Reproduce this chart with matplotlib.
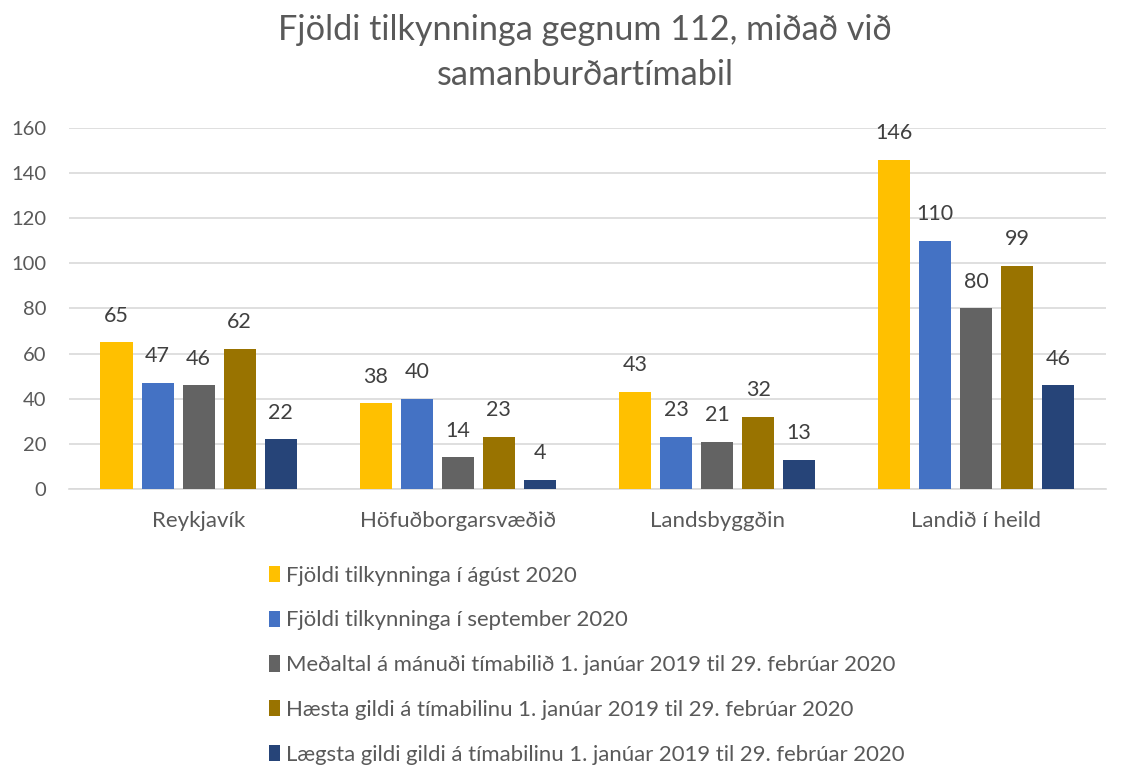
import numpy as np
import matplotlib.pyplot as plt
from matplotlib.patches import Patch

plt.rcParams['font.family'] = ['Lato', 'DejaVu Sans']

categories = ["Reykjavík", "Höfuðborgarsvæðið", "Landsbyggðin", "Landið í heild"]
series_names = [
    "Fjöldi tilkynninga í ágúst 2020",
    "Fjöldi tilkynninga í september 2020",
    "Meðaltal á mánuði tímabilið 1. janúar 2019 til 29. febrúar 2020",
    "Hæsta gildi á tímabilinu 1. janúar 2019 til 29. febrúar 2020",
    "Lægsta gildi gildi á tímabilinu 1. janúar 2019 til 29. febrúar 2020",
]
aug_2020 = [65, 38, 43, 146]
sep_2020 = [47, 40, 23, 110]
avg_period = [46, 14, 21, 80]
max_period = [62, 23, 32, 99]
min_period = [22, 4, 13, 46]
colors = ["#FFC000", "#4472C4", "#636363", "#997300", "#264478"]

values = [aug_2020, sep_2020, avg_period, max_period, min_period]
text_col = "#595959"

fig = plt.figure(figsize=(11.34, 7.65), dpi=100)
ax = fig.add_axes([0.0608, 0.3608, 0.9145, 0.4719])

x = np.arange(len(categories))
w = 0.1236
step = 0.1583
for i, (vals, col) in enumerate(zip(values, colors)):
    pos = x + (i - 2) * step
    bars = ax.bar(pos, vals, width=w, color=col, zorder=3)
    for b, v in zip(bars, vals):
        ax.annotate(str(v), (b.get_x() + b.get_width() / 2, v), xytext=(0, 12),
                    textcoords="offset points", ha="center", va="bottom",
                    fontsize=15.5, color="#404040")

ax.set_xlim(-0.5, 3.5)
ax.set_ylim(0, 160)
ax.set_yticks(range(0, 161, 20))
ax.set_xticks(x)
ax.set_xticklabels(categories)
ax.grid(axis="y", color="#D9D9D9", linewidth=1.2, zorder=0)
for s in ["top", "right", "left"]:
    ax.spines[s].set_visible(False)
ax.spines["bottom"].set_color("#D9D9D9")
ax.spines["bottom"].set_linewidth(1.2)
ax.tick_params(axis="both", length=0, colors=text_col)
ax.tick_params(axis="x", pad=16, labelsize=16)
ax.tick_params(axis="y", pad=16.5, labelsize=14.5)

fig.text(0.516, 0.982, "Fjöldi tilkynninga gegnum 112, miðað við\nsamanburðartímabil",
         ha="center", va="top", fontsize=24.7, color=text_col, linespacing=1.5)

handles = [Patch(facecolor=c) for c in colors]
fig.legend(handles, series_names, loc="upper left", bbox_to_anchor=(0.229, 0.272),
           frameon=False, fontsize=15.9, labelcolor=text_col, handlelength=0.5,
           handleheight=0.75, handletextpad=0.3, labelspacing=1.12, borderaxespad=0)

fig.savefig("out.png", dpi=100)
